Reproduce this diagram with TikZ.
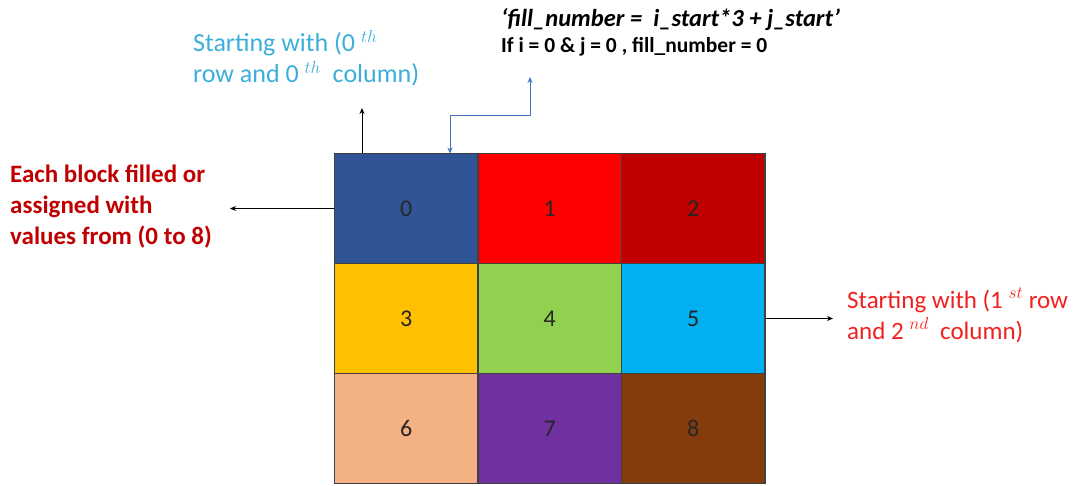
\documentclass[tikz,border=0pt]{standalone}
\usepackage{fontspec}
\setmainfont{Carlito}
\usetikzlibrary{arrows.meta}
\definecolor{cA}{HTML}{2F5597}
\definecolor{cB}{HTML}{FF0000}
\definecolor{cC}{HTML}{C00000}
\definecolor{cD}{HTML}{FFC000}
\definecolor{cE}{HTML}{92D050}
\definecolor{cF}{HTML}{00B0F0}
\definecolor{cG}{HTML}{F4B183}
\definecolor{cH}{HTML}{7030A0}
\definecolor{cI}{HTML}{843C0C}
\definecolor{lblue}{HTML}{3BAEDA}
\definecolor{dred}{HTML}{C00000}
\definecolor{bred}{HTML}{F02020}
\definecolor{arrblue}{HTML}{4472C4}
\definecolor{edge}{HTML}{404040}
\begin{document}
\begin{tikzpicture}[x=1pt,y=-1pt,
  cell/.style={draw=edge, line width=1.2pt, minimum width=143.5pt, minimum height=110pt, inner sep=0pt, font=\fontsize{24}{24}\selectfont, text=black!85},
  lab/.style={anchor=base west, align=left, inner sep=0pt},
  arr/.style={-{Stealth[length=6pt,width=5pt]}, line width=0.8pt}
]
\useasboundingbox (0,0) rectangle (1081,486);
% grid
\node[cell, fill=cA] (c0) at (406.25,208.5) {0};
\node[cell, fill=cB] (c1) at (549.75,208.5) {1};
\node[cell, fill=cC] (c2) at (693.25,208.5) {2};
\node[cell, fill=cD] (c3) at (406.25,318.5) {3};
\node[cell, fill=cE] (c4) at (549.75,318.5) {4};
\node[cell, fill=cF] (c5) at (693.25,318.5) {5};
\node[cell, fill=cG] (c6) at (406.25,428.5) {6};
\node[cell, fill=cH] (c7) at (549.75,428.5) {7};
\node[cell, fill=cI] (c8) at (693.25,428.5) {8};
% texts (base anchor = baseline of last line)
\node[lab, text=lblue, font=\fontsize{26}{31}\selectfont] (tblue) at (193,83)
  {Starting with (0 $^{th}$\\row and 0 $^{th}$\ \ column)};
\node[lab, font=\fontsize{24.5}{28}\selectfont\bfseries\itshape] (tform) at (501,27)
  {‘fill\_number =\ \ i\_start*3 + j\_start’};
\node[lab, font=\fontsize{21.5}{22}\selectfont\bfseries] (tif) at (501,53)
  {If i = 0 \& j = 0 , fill\_number = 0};
\node[lab, text=dred, font=\fontsize{25}{31}\selectfont\bfseries] (tleft) at (10,245)
  {Each block filled or\\assigned with\\values from (0 to 8)};
\node[lab, text=bred, font=\fontsize{25}{31}\selectfont] (tright) at (847,339)
  {Starting with (1 $^{st}$ row\\and 2 $^{nd}$\ \ column)};
% connectors
\coordinate (up0) at (362,108);
\draw[arr] (up0 |- c0.north) -- (up0);
\coordinate (fup) at (530,77);
\coordinate (fdn) at (450,153.5);
\draw[arr, arrblue, {Stealth[length=6pt,width=5pt]}-{Stealth[length=6pt,width=5pt]}] (fup) -- (530,115) -| (fdn);
\coordinate (lend) at (230,208.5);
\draw[arr] (c0.west) -- (lend);
\coordinate (rend) at (833,318.5);
\draw[arr] (c5.east) -- (rend);
\end{tikzpicture}
\end{document}
